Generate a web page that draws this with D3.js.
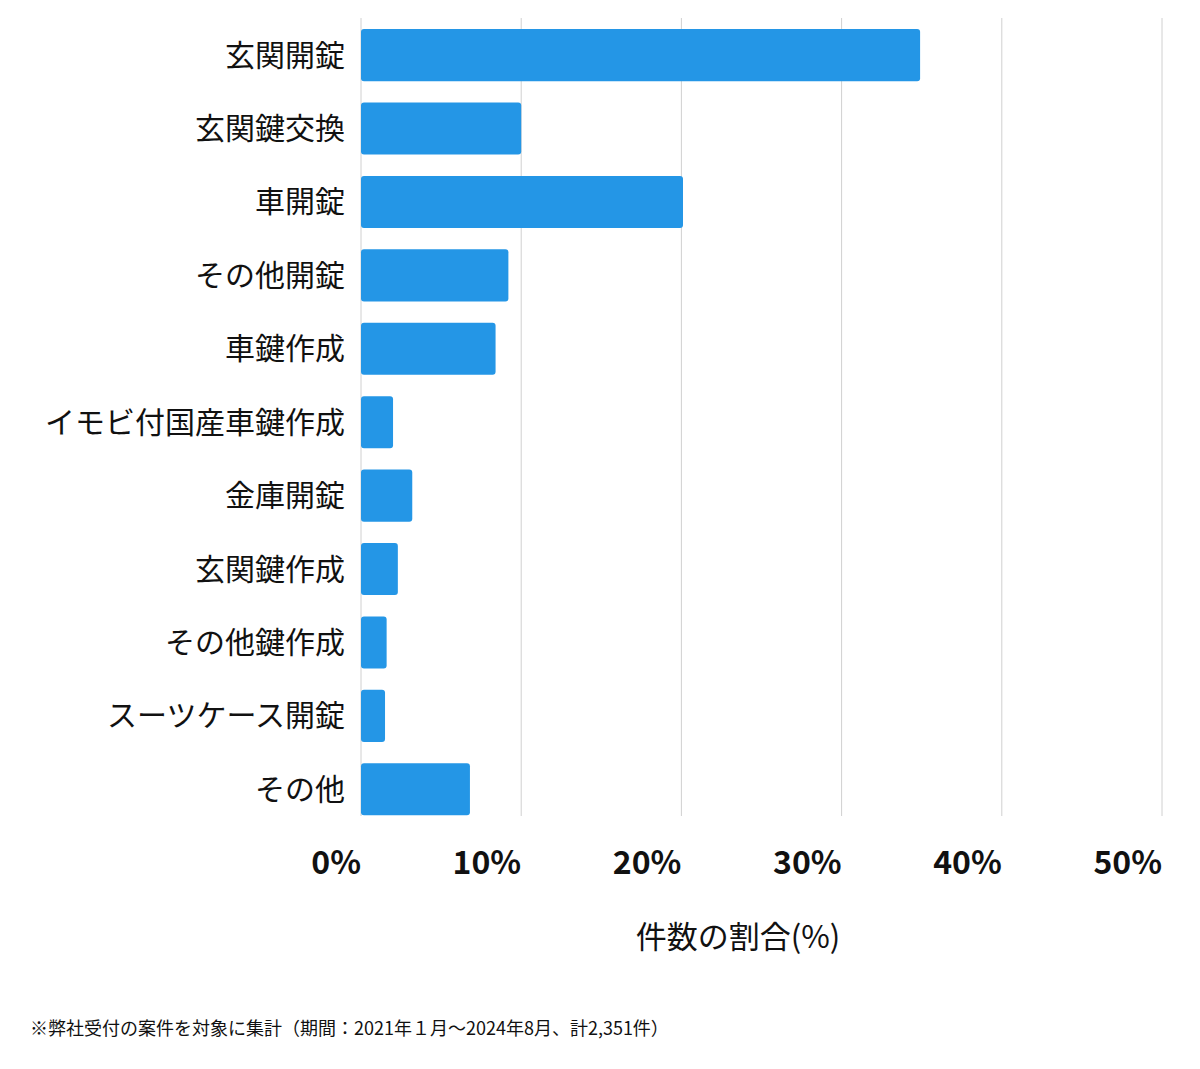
<!DOCTYPE html>
<html><head><meta charset="utf-8">
<script src="https://cdn.jsdelivr.net/npm/d3@7"></script>
<style>body{margin:0;background:#fff;font-family:"Noto Sans CJK JP","Noto Sans",sans-serif;}</style>
</head><body><div id="chart"></div>
<script>
const categories = ["玄関開錠","玄関鍵交換","車開錠","その他開錠","車鍵作成","イモビ付国産車鍵作成","金庫開錠","玄関鍵作成","その他鍵作成","スーツケース開錠","その他"];
const values = [34.9, 10.0, 20.1, 9.2, 8.4, 2.0, 3.2, 2.3, 1.6, 1.5, 6.8];
const ticks = [0, 10, 20, 30, 40, 50];

const width = 1200, height = 1069;
const svg = d3.select("#chart").append("svg").attr("width", width).attr("height", height);

const x = d3.scaleLinear().domain([0, 50]).range([361, 1162]);
const y = d3.scaleBand().domain(categories).range([18.4, 826]).paddingInner(0.29).paddingOuter(0.145);

svg.append("g").selectAll("line").data(ticks).join("line")
  .attr("x1", d => x(d)).attr("x2", d => x(d))
  .attr("y1", 18).attr("y2", 816)
  .attr("stroke", "#d0d0d0").attr("stroke-width", 1);

svg.append("g").selectAll("rect").data(values).join("rect")
  .attr("x", x(0)).attr("y", (d, i) => y(categories[i]))
  .attr("width", d => x(d) - x(0)).attr("height", y.bandwidth())
  .attr("rx", 3).attr("fill", "#2496e6");

svg.append("g").selectAll("text").data(categories).join("text")
  .attr("x", 345).attr("y", d => y(d) + y.bandwidth() / 2)
  .attr("dy", "0.35em").attr("text-anchor", "end")
  .attr("font-size", 30).attr("fill", "#111").text(d => d);

svg.append("g").selectAll("text").data(ticks).join("text")
  .attr("x", d => x(d)).attr("y", 874).attr("text-anchor", "end")
  .attr("font-size", 32).attr("font-weight", "bold").attr("fill", "#111")
  .text(d => d + "%");

svg.append("text").attr("x", 738).attr("y", 948).attr("text-anchor", "middle")
  .attr("font-size", 31).attr("fill", "#111").text("件数の割合(%)");

svg.append("text").attr("x", 30).attr("y", 1035)
  .attr("font-size", 18).attr("fill", "#111")
  .text("※弊社受付の案件を対象に集計（期間：2021年１月〜2024年8月、計2,351件）");
</script></body></html>
